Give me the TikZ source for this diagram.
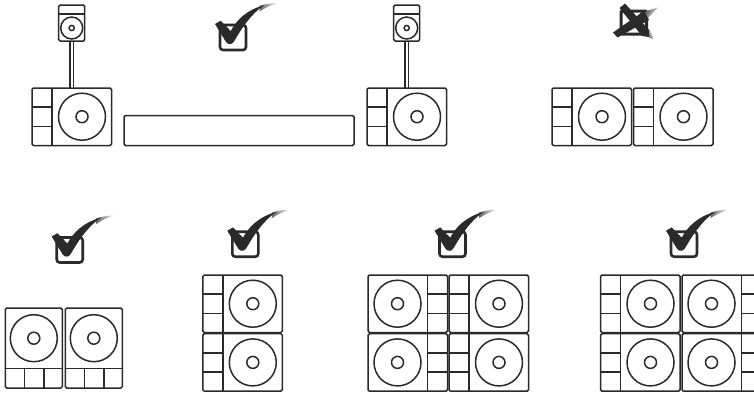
\documentclass[tikz,border=0pt]{standalone}
\definecolor{ink}{HTML}{2A2A2A}
\tikzset{
  unitline/.style={draw=ink,line width=1.5pt,rounded corners=1.5pt},
  inline/.style={draw=ink,line width=1.5pt},
  pics/spkleft/.style={code={
    \draw[unitline] (0,0) rectangle (79.5,57.5);
    \draw[inline] (20,0) -- (20,57.5) (0,19.2) -- (20,19.2) (0,38.4) -- (20,38.4);
    \draw[inline] (50,28.7) circle (23.5) (50,28.7) circle (6);
  }},
  pics/spkright/.style={code={
    \draw[unitline] (0,0) rectangle (79.5,57.5);
    \draw[inline] (59.5,0) -- (59.5,57.5) (59.5,19.2) -- (79.5,19.2) (59.5,38.4) -- (79.5,38.4);
    \draw[inline] (29.5,28.7) circle (23.5) (29.5,28.7) circle (6);
  }},
  pics/spkbottom/.style={code={
    \draw[unitline] (0,0) rectangle (57,80);
    \draw[inline] (0,60.5) -- (57,60.5) (19,60.5) -- (19,80) (38.5,60.5) -- (38.5,80);
    \draw[inline] (28.5,30.2) circle (23.5) (28.5,30.2) circle (6);
  }},
  pics/tophat/.style={code={
    \draw[unitline] (0,0) rectangle (26,36);
    \draw[inline] (0,9) -- (26,9);
    \draw[inline] (13,23) circle (11) (13,23) circle (2.6);
    \draw[inline] (11.3,36) -- (11.3,83) (14.7,36) -- (14.7,83);
  }},
  pics/okmark/.style={code={
    \draw[draw=ink,line width=2.6pt,rounded corners=3pt] (3.5,25) -- (3.5,50) -- (29.5,50) -- (29.5,25) -- cycle;
    \shade[left color=ink!70,right color=white,shading angle=80] (43,5.8) .. controls (49,4) and (55,3) .. (61,3) .. controls (55,5) and (50,7) .. (43,11.5) -- cycle;
    \fill[ink] (-1.5,24) -- (4.2,20.7) -- (14.2,31)
      .. controls (20,20) and (30,10) .. (48,5)
      .. controls (40,10) and (30,20) .. (19,39)
      .. controls (16.5,45) and (12,45.5) .. (9.5,42) -- cycle;
  }},
}
\begin{document}
\begin{tikzpicture}[x=1pt,y=-1pt]
\useasboundingbox (0,0) rectangle (754,392);
\clip (0,0) rectangle (754,392);
% top row
\pic at (32,88) {spkleft};
\pic at (58.7,5) {tophat};
\pic at (367,88) {spkleft};
\pic at (393.7,5) {tophat};
\draw[unitline] (124,115.5) rectangle (354,145.5);
\pic at (216.5,0) {okmark};
\pic at (552,88) {spkleft};
\pic at (633.5,88) {spkleft};
% cross
\draw[draw=ink,line width=3pt,rounded corners=1pt] (621,11) rectangle (646.5,34);
\shade[left color=ink,right color=white,shading angle=60] (640,13) -- (658,7.5) -- (645,21) -- cycle;
\shade[left color=ink,right color=white,shading angle=130] (644,30) -- (650,28) -- (653,39) -- (646,36) -- cycle;
\fill[ink] (619.5,8) -- (625,3.5) -- (649,30) -- (649,37) -- (642,36) -- cycle;
\fill[ink] (613,32.5) -- (617.5,37.5) -- (649,20) -- (644,11) -- cycle;
% bottom row
\pic at (53.2,212.5) {okmark};
\pic at (5.3,308) {spkbottom};
\pic at (65.3,308) {spkbottom};
\pic at (228.8,206.7) {okmark};
\pic at (202.8,275) {spkleft};
\pic at (202.8,333.7) {spkleft};
\pic at (436,206.7) {okmark};
\pic at (368,275) {spkright};
\pic at (368,333.7) {spkright};
\pic at (449,275) {spkleft};
\pic at (449,333.7) {spkleft};
\pic at (667.5,206.7) {okmark};
\pic at (600.5,275) {spkleft};
\pic at (600.5,333.7) {spkleft};
\pic at (682,275) {spkright};
\pic at (682,333.7) {spkright};
\end{tikzpicture}
\end{document}
